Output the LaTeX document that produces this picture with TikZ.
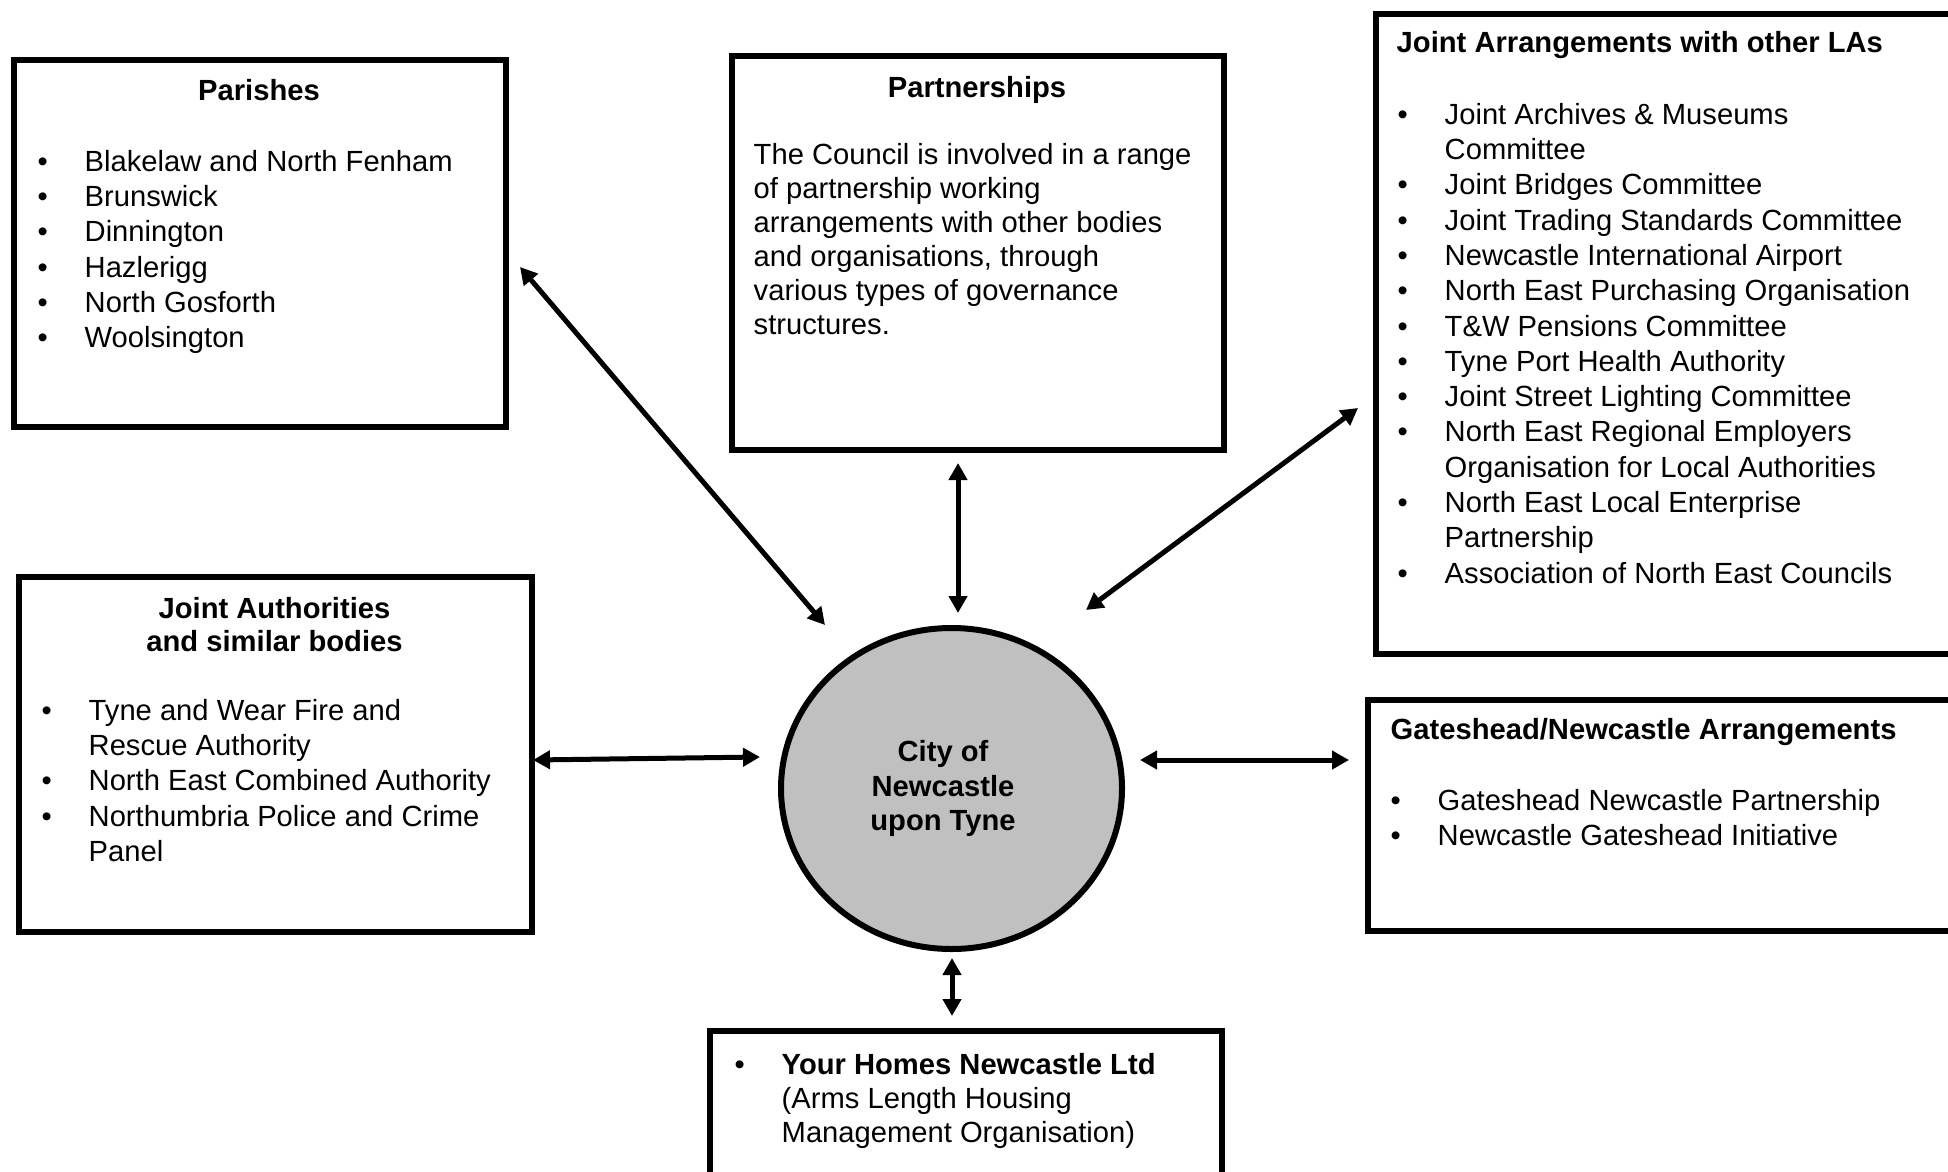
\documentclass[tikz,border=0pt]{standalone}
\usepackage{fontspec}
\setmainfont{Liberation Sans}
\usetikzlibrary{arrows.meta,shapes.geometric}
\definecolor{hubgray}{RGB}{192,192,192}
\newcommand{\bulitem}{\makebox[4.7mm][l]{\textbullet}}
\newcommand{\bulcont}{\hspace*{4.7mm}}

\begin{document}
\begin{tikzpicture}[x=0.1mm, y=-0.1mm,
    panel/.style={draw, line width=0.6mm, anchor=north west, inner sep=0pt},
    hub/.style={ellipse, draw, line width=0.6mm, fill=hubgray, inner sep=0pt,
                minimum width=34.1mm, minimum height=32.1mm},
    hubtext/.style={align=center, inner sep=0pt,
                    font=\fontsize{8.3pt}{9.8pt}\selectfont\bfseries},
    head/.style={inner sep=0pt, font=\fontsize{8.3pt}{9.4pt}\selectfont\bfseries},
    list/.style={anchor=north west, inner sep=0pt, align=left,
                 font=\fontsize{8.3pt}{10.04pt}\selectfont},
    para/.style={list, font=\fontsize{8.3pt}{9.67pt}\selectfont},
    flow/.style={{Triangle[length=1.7mm,width=1.8mm]}-{Triangle[length=1.7mm,width=1.8mm]},
                 line width=0.5mm},
]
    \useasboundingbox (0,0) rectangle (1948,1171);
    \clip (0,0) rectangle (1948,1171);

    \node[panel, minimum width=49.2mm, minimum height=36.7mm] (parishes) at (11,57) {};
    \node[panel, minimum width=49.2mm, minimum height=39.35mm] (partners) at (729,53.5) {};
    \node[panel, minimum width=62.5mm, minimum height=63.95mm] (jointla) at (1373,11) {};
    \node[panel, minimum width=51.3mm, minimum height=35.5mm] (jointauth) at (16,574) {};
    \node[panel, minimum width=63.3mm, minimum height=23.05mm] (gateshead) at (1365,697) {};
    \node[panel, minimum width=51.2mm, minimum height=20mm] (homes) at (706.5,1028) {};
    \node[hub] (city) at (951.5,788.5) {};
    \node[hubtext] (city-t) at (943,788.5) {City of\\Newcastle\\upon Tyne};

    \node[head, anchor=base] (parishes-t) at (259,100.5) {Parishes};
    \node[list] (parishes-l) at (37,149.5) {\bulitem Blakelaw and North Fenham\\
        \bulitem Brunswick\\ \bulitem Dinnington\\ \bulitem Hazlerigg\\
        \bulitem North Gosforth\\ \bulitem Woolsington};

    \node[head, anchor=base] (partners-t) at (977,97.5) {Partnerships};
    \node[para] (partners-p) at (753,142.5) {The Council is involved in a range\\
        of partnership working\\arrangements with other bodies\\
        and organisations, through\\various types of governance\\structures.};

    \node[head, anchor=base west] (jointla-t) at (1396,52.5) {Joint Arrangements with other LAs};
    \node[list] (jointla-l) at (1397,102.5) {\bulitem Joint Archives \& Museums\\
        \bulcont Committee\\ \bulitem Joint Bridges Committee\\
        \bulitem Joint Trading Standards Committee\\
        \bulitem Newcastle International Airport\\
        \bulitem North East Purchasing Organisation\\
        \bulitem T\&W Pensions Committee\\ \bulitem Tyne Port Health Authority\\
        \bulitem Joint Street Lighting Committee\\
        \bulitem North East Regional Employers\\
        \bulcont Organisation for Local Authorities\\
        \bulitem North East Local Enterprise\\ \bulcont Partnership\\
        \bulitem Association of North East Councils};

    \node[head, anchor=north, align=center] (jointauth-t) at (274.5,596.5)
        {Joint Authorities\\and similar bodies};
    \node[list] (jointauth-l) at (41,698.5) {\bulitem Tyne and Wear Fire and\\
        \bulcont Rescue Authority\\ \bulitem North East Combined Authority\\
        \bulitem Northumbria Police and Crime\\ \bulcont Panel};

    \node[head, anchor=base west] (gateshead-t) at (1390,739.5) {Gateshead/Newcastle Arrangements};
    \node[list] (gateshead-l) at (1390,788.5) {\bulitem Gateshead Newcastle Partnership\\
        \bulitem Newcastle Gateshead Initiative};

    \node[para] (homes-l) at (734,1052.5) {\bulitem\textbf{Your Homes Newcastle Ltd}\\
        \bulcont (Arms Length Housing\\ \bulcont Management Organisation)};

    \coordinate (parishes-e) at (520,267);
    \coordinate (city-nw) at (825,625);
    \coordinate (partners-s) at (958,463);
    \coordinate (city-n) at (958,613);
    \coordinate (jointla-w) at (1358,408);
    \coordinate (city-ne) at (1086,610);
    \coordinate (jointauth-e) at (533,760);
    \coordinate (city-w) at (760,757);
    \coordinate (city-e) at (1140,760);
    \coordinate (gateshead-w) at (1349,760);
    \coordinate (city-s) at (952,958);
    \coordinate (homes-n) at (952,1016);

    \draw[flow] (parishes-e) -- (city-nw);
    \draw[flow] (partners-s) -- (city-n);
    \draw[flow] (jointla-w) -- (city-ne);
    \draw[flow] (jointauth-e) -- (city-w);
    \draw[flow] (city-e) -- (gateshead-w);
    \draw[flow] (city-s) -- (homes-n);

\end{tikzpicture}
\end{document}
